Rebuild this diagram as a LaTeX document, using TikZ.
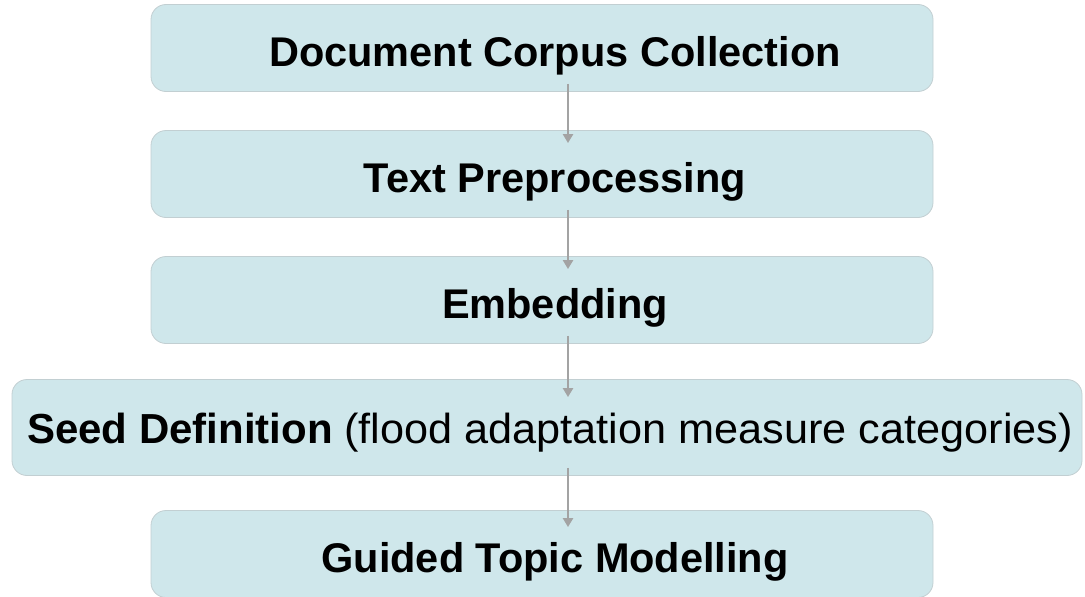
\documentclass[tikz,border=0pt]{standalone}
\usepackage{fontspec}
\setmainfont{Liberation Sans}
\newfontfamily\regwide[FakeStretch=1.03]{Liberation Sans}
\usetikzlibrary{arrows.meta}
\definecolor{boxfill}{HTML}{CFE7EB}
\definecolor{boxline}{HTML}{C2CFD2}
\definecolor{arrowgray}{HTML}{A3A3A3}
\begin{document}
\begin{tikzpicture}[x=1pt,y=-1pt,
  basebox/.style={draw=boxline,line width=0.8pt,fill=boxfill,rounded corners=15pt,
    minimum width=782pt,minimum height=87pt,inner sep=0pt,text height=36pt,text depth=0pt,
    font=\fontsize{41.5}{48}\selectfont\bfseries},
  stepbox/.style={basebox,execute at begin node=\hspace*{26pt}},
  flow/.style={draw=arrowgray,line width=2.6pt,-{Triangle[width=10pt,length=9pt]}}]
\useasboundingbox (0,0) rectangle (1085,597);
\node[stepbox] (b1) at (542,48) {Document Corpus Collection};
\node[stepbox] (b2) at (542,174) {Text Preprocessing};
\node[stepbox] (b3) at (542,300) {Embedding};
\node[basebox,minimum width=1070pt,minimum height=96pt,text height=32pt,font=\fontsize{42}{48}\selectfont] (b4) at (547,427.5) {\hspace*{6pt}\textbf{Seed Definition} {\regwide(flood adaptation measure categories)}};
\node[stepbox] (b5) at (542,554) {Guided Topic Modelling};
\draw[flow] ([xshift=26pt,yshift=8pt]b1.south) -- ([xshift=26pt,yshift=-13pt]b2.north);
\draw[flow] ([xshift=26pt,yshift=8pt]b2.south) -- ([xshift=26pt,yshift=-13pt]b3.north);
\draw[flow] ([xshift=26pt,yshift=8pt]b3.south) -- ([xshift=21pt,yshift=-18pt]b4.north);
\draw[flow] ([xshift=21pt,yshift=8pt]b4.south) -- ([xshift=26pt,yshift=-17pt]b5.north);
\end{tikzpicture}
\end{document}
